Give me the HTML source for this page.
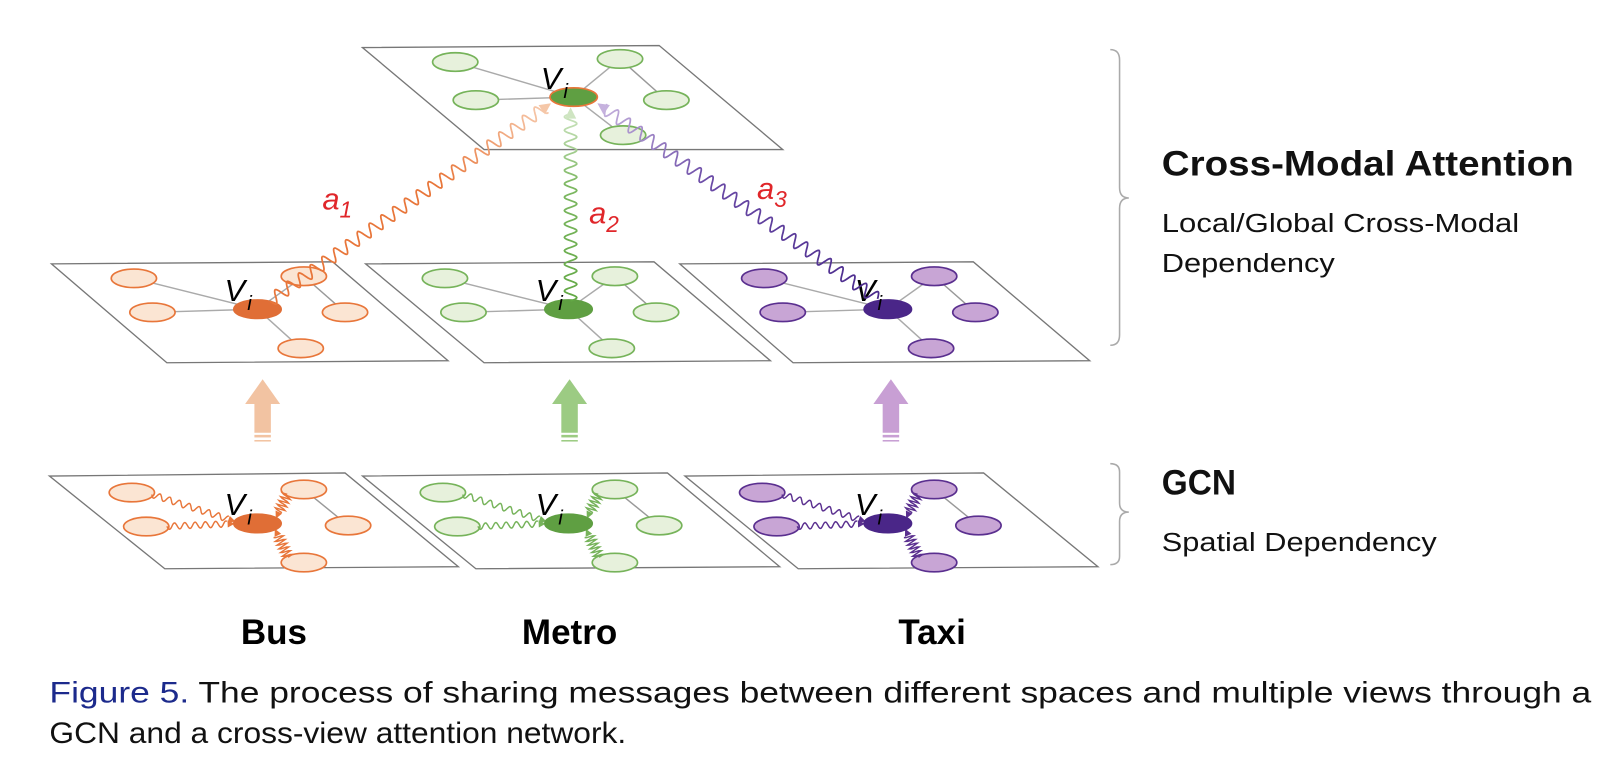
<!DOCTYPE html>
<html><head><meta charset="utf-8"><style>
html,body{margin:0;padding:0;background:#fff;}
svg{display:block}
</style></head><body>
<svg id="s" width="1616" height="776" viewBox="0 0 1569 753" xmlns="http://www.w3.org/2000/svg" font-family="'Liberation Sans', sans-serif">
<defs>
<linearGradient id="gO" x1="262" y1="290" x2="535" y2="98" gradientUnits="userSpaceOnUse"><stop offset="0" stop-color="#e8763a"/><stop offset="0.6" stop-color="#e8763a"/><stop offset="1" stop-color="#f7cfb4"/></linearGradient>
<linearGradient id="gG" x1="0" y1="292" x2="0" y2="104" gradientUnits="userSpaceOnUse"><stop offset="0" stop-color="#62a844"/><stop offset="0.6" stop-color="#7db862"/><stop offset="1" stop-color="#d3e8c8"/></linearGradient>
<linearGradient id="gP" x1="850" y1="290" x2="580" y2="100" gradientUnits="userSpaceOnUse"><stop offset="0" stop-color="#4a2a8c"/><stop offset="0.6" stop-color="#6a4aa6"/><stop offset="1" stop-color="#c9b6e0"/></linearGradient>
</defs>
<g id="g"></g>
<g fill="#e0262a" font-style="italic" font-size="30">
<text x="313" y="203">a<tspan font-size="22" dy="8">1</tspan></text>
<text x="572" y="217">a<tspan font-size="22" dy="8">2</tspan></text>
<text x="735" y="193">a<tspan font-size="22" dy="8">3</tspan></text>
</g>
<g font-weight="bold" font-size="34" text-anchor="middle" fill="#000">
<text x="266" y="625">Bus</text>
<text x="553" y="625">Metro</text>
<text x="905" y="625">Taxi</text>
</g>
<g fill="none" stroke="#aaa" stroke-width="1.5">
<path d="M1078 48 Q1087 48 1087 58 L1087 182 Q1087 192 1096 192 Q1087 192 1087 202 L1087 325 Q1087 335 1078 335"/>
<path d="M1078 450 Q1087 450 1087 458 L1087 488 Q1087 497 1096 497 Q1087 497 1087 506 L1087 540 Q1087 548 1078 548"/>
</g>
<g fill="#111">
<text x="1128" y="170" font-size="34" font-weight="bold" textLength="400" lengthAdjust="spacingAndGlyphs">Cross-Modal Attention</text>
<text x="1128" y="225" font-size="25" textLength="347" lengthAdjust="spacingAndGlyphs">Local/Global Cross-Modal</text>
<text x="1128" y="264" font-size="25" textLength="168" lengthAdjust="spacingAndGlyphs">Dependency</text>
<text x="1128" y="480" font-size="34" font-weight="bold" textLength="72" lengthAdjust="spacingAndGlyphs">GCN</text>
<text x="1128" y="535" font-size="25" textLength="267" lengthAdjust="spacingAndGlyphs">Spatial Dependency</text>
</g>
<g font-size="29" fill="#111">
<text x="48" y="682" textLength="1497" lengthAdjust="spacingAndGlyphs"><tspan fill="#1c2a8c">Figure 5.</tspan> The process of sharing messages between different spaces and multiple views through a</text>
<text x="48" y="721" textLength="560" lengthAdjust="spacingAndGlyphs">GCN and a cross-view attention network.</text>
</g>
</svg>
<script>
const g=document.getElementById('g');const NS='http://www.w3.org/2000/svg';
function el(t,a){const e=document.createElementNS(NS,t);for(const k in a)e.setAttribute(k,a[k]);g.appendChild(e);return e;}
function wave(x0,y0,x1,y1,amp,wl,stroke,w,arrow,afill){
 const dx=x1-x0,dy=y1-y0,L=Math.hypot(dx,dy),ux=dx/L,uy=dy/L,nx=-uy,ny=ux;
 const end=arrow?L-7:L;let d='';
 for(let s=0;s<=end;s+=0.8){const o=amp*Math.sin(s/wl*2*Math.PI);const x=x0+ux*s+nx*o,y=y0+uy*s+ny*o;d+=(d?'L':'M')+x.toFixed(1)+' '+y.toFixed(1);}
 el('path',{d:d,fill:'none',stroke:stroke,'stroke-width':w});
 if(arrow){const ah=arrow;const bx=x1-ux*ah,by=y1-uy*ah;
  el('polygon',{points:`${x1},${y1} ${bx+nx*ah*0.5},${by+ny*ah*0.5} ${bx-nx*ah*0.5},${by-ny*ah*0.5}`,fill:afill||stroke});}
}
function panel(pts){el('polygon',{points:pts.map(p=>p.join(',')).join(' '),fill:'#fff',stroke:'#777','stroke-width':1.3});}
const C={o:{s:'#e8763a',f:'#fbe5d3',c:'#e06e36'},g:{s:'#76b35a',f:'#e7f1dc',c:'#5f9f42'},p:{s:'#5a2f8f',f:'#c8a5d5',c:'#4a2688'}};
function graph(cx,cy,offs,col,mode,cstroke,cfill){
 const nodes=offs.map(o=>[cx+o[0],cy+o[1]]);
 el('line',{x1:nodes[2][0],y1:nodes[2][1],x2:nodes[3][0],y2:nodes[3][1],stroke:'#999','stroke-width':1.4});
 [0,1,2,4].forEach(i=>{const n=nodes[i];
  if(mode==='line')el('line',{x1:n[0],y1:n[1],x2:cx,y2:cy,stroke:'#aaa','stroke-width':1.4});
 });
 nodes.forEach(n=>el('ellipse',{cx:n[0],cy:n[1],rx:22,ry:9,fill:col.f,stroke:col.s,'stroke-width':1.6}));
 if(mode==='wave'){[0,1,2,4].forEach(i=>{const n=nodes[i];const dx=cx-n[0],dy=cy-n[1],L=Math.hypot(dx,dy);
   const sx=n[0]+dx/L*20,sy=n[1]+dy/L*8,ex=cx-dx/L*22,ey=cy-dy/L*8;
   const amp=(i==2||i==4)?5:3, wl=(i==2||i==4)?4:10;
   wave(sx,sy,ex,ey,amp,wl,col.s,1.4,7);});}
 el('ellipse',{cx:cx,cy:cy,rx:23,ry:9,fill:cfill||col.c,stroke:cstroke||col.c,'stroke-width':1.6});
 const t=el('text',{x:cx-32,y:cy-8,'font-size':30,'font-style':'italic',fill:'#000'});t.textContent='V';
 const t2=el('text',{x:cx-10,y:cy+1,'font-size':20,'font-style':'italic',fill:'#000'});t2.textContent='i';
}
panel([[352,46],[640,44],[760,145],[470,145]]);
graph(557,94,[[-115,-34],[-95,3],[45,-37],[90,3],[48,37]],C.g,'line',C.o.s,C.g.c);
panel([[50,256],[323,254],[435,350],[162,352]]);panel([[355,256],[635,254],[748,350],[470,352]]);panel([[660,256],[945,254],[1058,350],[770,352]]);
const mo=[[-120,-30],[-102,3],[45,-32],[85,3],[42,38]];
graph(250,300,mo,C.o,'line');graph(552,300,mo,C.g,'line');graph(862,300,mo,C.p,'line');
panel([[48,462],[335,459],[445,550],[160,552]]);panel([[352,462],[648,459],[757,550],[462,552]]);panel([[665,462],[955,459],[1066,550],[775,552]]);
const bo=[[-122,-30],[-108,3],[45,-33],[88,2],[45,38]];
graph(250,508,bo,C.o,'wave');graph(552,508,bo,C.g,'wave');graph(862,508,bo,C.p,'wave');
wave(262,292,535,100,6,14,'url(#gO)',1.7,11,'#f5c7a8');
wave(554,292,554,104,6,13,'url(#gG)',1.7,11,'#cfe5c2');
wave(852,290,580,100,6,14,'url(#gP)',1.7,11,'#c6b2de');
function barrow(x,col){
 el('polygon',{points:`${x},368 ${x+17},392 ${x+8},392 ${x+8},420 ${x-8},420 ${x-8},392 ${x-17},392`,fill:col});
 el('rect',{x:x-8,y:422,width:16,height:2.5,fill:col});el('rect',{x:x-8,y:427,width:16,height:1.5,fill:col});
}
barrow(255,'#f2c3a2');barrow(553,'#9ccb83');barrow(865,'#c89fd4');
</script>
</body></html>
